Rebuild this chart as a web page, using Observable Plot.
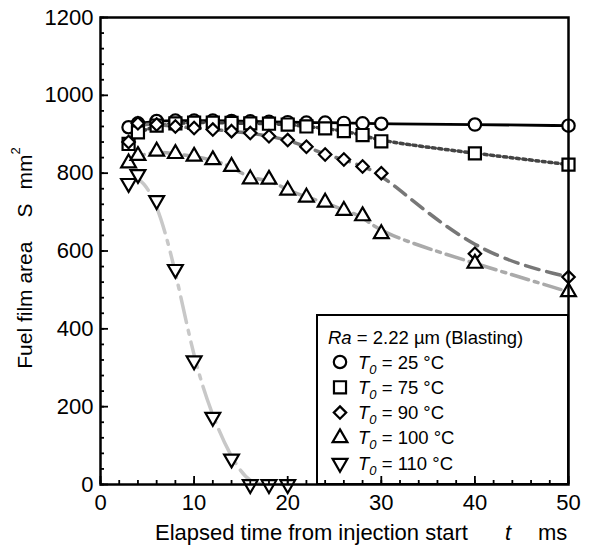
<!DOCTYPE html>
<html><head><meta charset="utf-8">
<script src="https://cdn.jsdelivr.net/npm/d3@7"></script>
<script src="https://cdn.jsdelivr.net/npm/@observablehq/plot@0.6"></script>
<style>
body{margin:0;background:#fff;}
#chart{width:590px;height:550px;}
</style>
</head><body><div id="chart"></div>
<script>
// ---- data ----
const times = [3,4,6,8,10,12,14,16,18,20,22,24,26,28,30,40,50];
const s25  = [918,928,934,935,935,935,934,933,932,931,930,930,929,928,927,925,922];
const s75  = [875,905,922,928,930,930,929,928,927,925,920,915,908,898,882,851,822];
const s90  = [880,928,925,920,916,912,908,903,895,885,868,848,835,817,800,593,533];
const s100 = [826,845,856,850,843,834,817,785,784,756,738,725,704,690,644,568,495];
const times110 = [3,4,6,8,10,12,14,16,18,20];
const s110 = [774,797,730,553,318,173,66,0,0,0];
const temps = ["25","75","90","100","110"];
const xTicks = [0,10,20,30,40,50];
const yTicks = [0,200,400,600,800,1000,1200];
const legendTitle = "2.22 µm (Blasting)";

// ---- layout ----
const W = 590, H = 550;
const mL = 100, mR = 22, mT = 17, mB = 66;
const pw = W - mL - mR, ph = H - mT - mB;
const FONT = "'Liberation Sans', Arial, sans-serif";

const sqrt3 = Math.sqrt(3);
const triDown = {draw(ctx, size){const y = -Math.sqrt(size/(sqrt3*3)); ctx.moveTo(0,-2*y); ctx.lineTo(-sqrt3*y, y); ctx.lineTo(sqrt3*y, y); ctx.closePath();}};
const triUp = d3.symbolTriangle;

const series = [
  {t: times, v: s25,  sym: d3.symbolCircle,   r: 6.2, stroke: "#000",    sw: 2.8, dash: null},
  {t: times, v: s75,  sym: d3.symbolSquare,   r: 6.8, stroke: "#444",    sw: 3.5, dash: "3,3.5"},
  {t: times, v: s90,  sym: d3.symbolDiamond2, r: 5.6, stroke: "#777",    sw: 3.5, dash: "14,8"},
  {t: times, v: s100, sym: triUp,             r: 5.5, stroke: "#aaa",    sw: 3.5, dash: "18,6,4,6"},
  {t: times110, v: s110, sym: triDown,        r: 5.5, stroke: "#c8c8c8", sw: 3.5, dash: "26,8,4,8"}
];
const rows = series.map(s => s.t.map((t,i) => ({t, v: s.v[i]})));

const marks = [];
series.forEach((s,k) => {
  marks.push(Plot.line(rows[k], {x: "t", y: "v", curve: "basis", stroke: s.stroke, strokeWidth: s.sw, strokeDasharray: s.dash}));
});
series.forEach((s,k) => {
  marks.push(Plot.dot(rows[k], {x: "t", y: "v", symbol: s.sym, r: s.r, stroke: "#000", strokeWidth: 2.2, fill: "white"}));
});
const yMinor = d3.range(0, 1201, 40);
const xMinor = d3.range(0, 51, 2);
marks.push(
  Plot.tickY(yMinor, {y: d => d, insetRight: pw - 4, stroke: "#000", strokeWidth: 1.8}),
  Plot.tickY(yTicks, {y: d => d, insetRight: pw - 8, stroke: "#000", strokeWidth: 1.8}),
  Plot.tickX(xMinor, {x: d => d, insetTop: ph - 4, stroke: "#000", strokeWidth: 1.8}),
  Plot.tickX(xTicks, {x: d => d, insetTop: ph - 8, stroke: "#000", strokeWidth: 1.8}),
  Plot.axisY(yTicks, {tickSize: 0, tickPadding: 7, fontSize: 22, label: null, tickFormat: d => String(d)}),
  Plot.axisX(xTicks, {tickSize: 0, tickPadding: 10, fontSize: 22, label: null, tickFormat: d => String(d)}),
  Plot.frame({stroke: "#000", strokeWidth: 2.5})
);

const chart = Plot.plot({
  width: W, height: H,
  marginLeft: mL, marginRight: mR, marginTop: mT, marginBottom: mB,
  x: {domain: [0, 50]},
  y: {domain: [0, 1200]},
  style: {fontFamily: FONT, color: "#000", background: "#fff", overflow: "visible"},
  marks
});
document.getElementById("chart").appendChild(chart);

const svg = d3.select(chart);

// legend (inserted below ticks/frame)
const lg = svg.insert("g", 'g[aria-label="tick"]').attr("font-family", FONT).attr("font-size", 18.5).attr("fill", "#000").attr("text-anchor", "start");
const bx = 317, by = 315, bw = mL + pw - bx, bh = mT + ph - by;
lg.append("rect").attr("x", bx).attr("y", by).attr("width", bw).attr("height", bh).attr("fill", "white").attr("stroke", "#000").attr("stroke-width", 2);
const tt = lg.append("text").attr("x", 328).attr("y", 344).attr("text-anchor", "start");
tt.append("tspan").attr("font-style", "italic").text("Ra");
tt.append("tspan").text(" = " + legendTitle);
series.forEach((s,k) => {
  const cy = 362 + k * 25.3;
  lg.append("path").attr("transform", `translate(340,${cy})`)
    .attr("d", d3.symbol(s.sym, Math.PI * s.r * s.r)())
    .attr("fill", "white").attr("stroke", "#000").attr("stroke-width", 2.2);
  const tx = lg.append("text").attr("x", 358).attr("y", cy + 6.5).attr("text-anchor", "start");
  tx.append("tspan").attr("font-style", "italic").text("T");
  tx.append("tspan").attr("font-style", "italic").attr("font-size", 13).attr("dy", 5).text("0");
  tx.append("tspan").attr("dy", -5).text(" = " + temps[k] + " °C");
});

// axis titles
const yt = svg.append("text").attr("transform", "translate(24,258) rotate(-90)")
  .attr("text-anchor", "middle").attr("dominant-baseline", "central")
  .attr("font-family", FONT).attr("font-size", 21).attr("fill", "#000");
yt.append("tspan").text("Fuel film area");
yt.append("tspan").attr("dx", 24).text("S");
yt.append("tspan").attr("dx", 14).text("mm");
yt.append("tspan").attr("font-size", 13).attr("dy", -9).text("2");

const xg = svg.append("g").attr("font-family", FONT).attr("font-size", 22).attr("fill", "#000").attr("text-anchor", "start");
xg.append("text").attr("x", 468).attr("y", 540).attr("text-anchor", "end").text("Elapsed time from injection start");
xg.append("text").attr("x", 505).attr("y", 540).attr("font-style", "italic").text("t");
xg.append("text").attr("x", 538).attr("y", 540).text("ms");
</script>
</body></html>
